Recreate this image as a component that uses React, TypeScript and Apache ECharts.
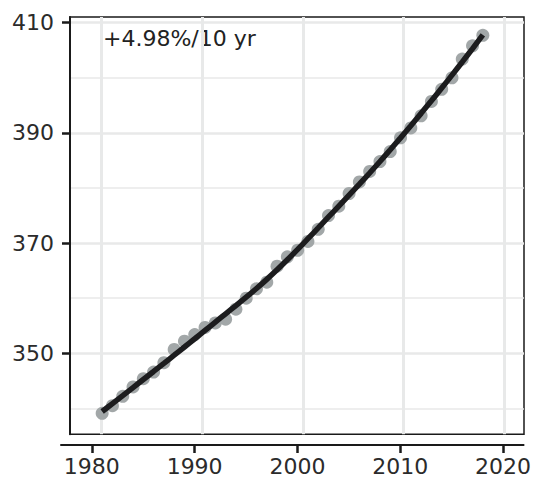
import React, { useEffect, useRef } from "react";
import * as echarts from "echarts";

// Annual mean CO2 (ppm)
const years: number[] = [
  1981, 1982, 1983, 1984, 1985, 1986, 1987, 1988, 1989, 1990,
  1991, 1992, 1993, 1994, 1995, 1996, 1997, 1998, 1999, 2000,
  2001, 2002, 2003, 2004, 2005, 2006, 2007, 2008, 2009, 2010,
  2011, 2012, 2013, 2014, 2015, 2016, 2017, 2018,
];
const co2: number[] = [
  339.1, 340.5, 342.2, 343.9, 345.4, 346.6, 348.3, 350.7, 352.2, 353.4,
  354.7, 355.5, 356.2, 358.0, 360.0, 361.7, 362.9, 365.8, 367.5, 368.7,
  370.3, 372.5, 375.0, 376.7, 379.0, 381.1, 383.0, 384.8, 386.6, 389.1,
  390.9, 393.1, 395.7, 397.9, 400.0, 403.4, 405.8, 407.7,
];

const xTickYears: number[] = [1980, 1990, 2000, 2010, 2020];
const yMajorTicks: number[] = [350, 370, 390, 410];
const yMinorTicks: number[] = [340, 360, 380, 400];
const trendLabel = "+4.98%/10 yr";

// Local quadratic regression (loess, tricube weights, span 0.75)
function loess(xs: number[], ys: number[], span = 0.75): number[] {
  const n = xs.length;
  const q = Math.max(3, Math.floor(span * n));
  return xs.map((x0) => {
    const dists = xs.map((x) => Math.abs(x - x0)).sort((a, b) => a - b);
    const d = dists[q - 1] || 1;
    // normal equations for y = a + b*u + c*u^2, u = x - x0
    const S = [0, 0, 0, 0, 0];
    const T = [0, 0, 0];
    for (let i = 0; i < n; i++) {
      const u = xs[i] - x0;
      const r = Math.abs(u) / d;
      if (r >= 1) continue;
      const w = Math.pow(1 - r * r * r, 3);
      let p = w;
      for (let k = 0; k < 5; k++) {
        S[k] += p;
        if (k < 3) T[k] += p * ys[i];
        p *= u;
      }
    }
    const M = [
      [S[0], S[1], S[2], T[0]],
      [S[1], S[2], S[3], T[1]],
      [S[2], S[3], S[4], T[2]],
    ];
    for (let c = 0; c < 3; c++) {
      let piv = c;
      for (let r = c + 1; r < 3; r++) if (Math.abs(M[r][c]) > Math.abs(M[piv][c])) piv = r;
      [M[c], M[piv]] = [M[piv], M[c]];
      for (let r = 0; r < 3; r++) {
        if (r === c) continue;
        const f = M[r][c] / M[c][c];
        for (let k = c; k < 4; k++) M[r][k] -= f * M[c][k];
      }
    }
    return M[0][3] / M[0][0];
  });
}

const FONT = "DejaVu Sans";
const INK = "#1a1a1a";
const GRID_COLOR = "#e8e9e9";

export default function App() {
  const ref = useRef<HTMLDivElement>(null);

  useEffect(() => {
    document.body.style.margin = "0";
    if (!ref.current) return;
    const chart = echarts.init(ref.current, undefined, { renderer: "svg" });

    const fitted = loess(years, co2);
    const points = years.map((y, i) => [y, co2[i]]);
    const fitLine = years.map((y, i) => [y, fitted[i]]);

    const yMin = 335.3;
    const yMax = 411.03;

    chart.setOption({
      animation: false,
      grid: [
        {
          left: 70,
          right: 10,
          top: 17,
          bottom: 47.7,
          show: true,
          borderColor: INK,
          borderWidth: 1.5,
          backgroundColor: "transparent",
        },
        { left: 61, right: 10, top: 440, bottom: 37 },
      ],
      xAxis: [
        // data scale
        { gridIndex: 0, type: "value", min: 1977.875, max: 2022, show: false },
        // panel grid lines
        {
          gridIndex: 0,
          type: "value",
          min: 1976.85,
          max: 2021.96,
          axisLine: { show: false },
          axisLabel: { show: false },
          axisTick: { show: false, customValues: xTickYears },
          splitLine: { show: true, lineStyle: { color: GRID_COLOR, width: 3 } },
        },
        // bottom axis
        {
          gridIndex: 1,
          type: "value",
          min: 1977,
          max: 2022,
          position: "bottom",
          axisLine: { show: true, onZero: false, lineStyle: { color: INK, width: 2 } },
          axisTick: {
            show: true,
            length: 8,
            customValues: xTickYears,
            lineStyle: { color: INK, width: 2.5 },
          },
          axisLabel: {
            customValues: xTickYears,
            formatter: (v: number) => String(v),
            margin: 10,
            color: "#2b2b2b",
            fontFamily: FONT,
            fontSize: 22,
          },
          splitLine: { show: false },
        },
      ],
      yAxis: [
        {
          gridIndex: 0,
          type: "value",
          min: yMin,
          max: yMax,
          axisLine: { show: true, lineStyle: { color: INK, width: 2 } },
          axisTick: {
            show: true,
            length: 8,
            customValues: yMajorTicks,
            lineStyle: { color: INK, width: 2.5 },
          },
          axisLabel: {
            customValues: yMajorTicks,
            formatter: (v: number) => String(v),
            margin: 16,
            color: "#2b2b2b",
            fontFamily: FONT,
            fontSize: 22,
          },
          splitLine: { show: true, lineStyle: { color: GRID_COLOR, width: 2.5 } },
        },
        {
          gridIndex: 0,
          type: "value",
          min: yMin,
          max: yMax,
          axisLine: { show: false },
          axisLabel: { show: false },
          axisTick: { show: false, customValues: yMinorTicks },
          splitLine: { show: true, lineStyle: { color: GRID_COLOR, width: 1.6 } },
        },
        { gridIndex: 1, type: "value", min: 0, max: 1, show: false },
      ],
      series: [
        {
          type: "scatter",
          xAxisIndex: 0,
          yAxisIndex: 0,
          data: points,
          symbolSize: 13,
          itemStyle: { color: "#a2a7a8", opacity: 1 },
          z: 2,
          silent: true,
        },
        {
          type: "line",
          xAxisIndex: 0,
          yAxisIndex: 0,
          data: fitLine,
          showSymbol: false,
          smooth: 0.3,
          lineStyle: { color: "#1c1c1e", width: 5.5 },
          z: 3,
          silent: true,
        },
      ],
      graphic: [
        {
          type: "text",
          left: 103,
          top: 27,
          style: {
            text: trendLabel,
            font: `22px "${FONT}"`,
            fill: "#222",
          },
        },
      ],
    });

    return () => chart.dispose();
  }, []);

  return (
    <div
      ref={ref}
      style={{ position: "absolute", left: 0, top: 0, width: 534, height: 482 }}
    />
  );
}
